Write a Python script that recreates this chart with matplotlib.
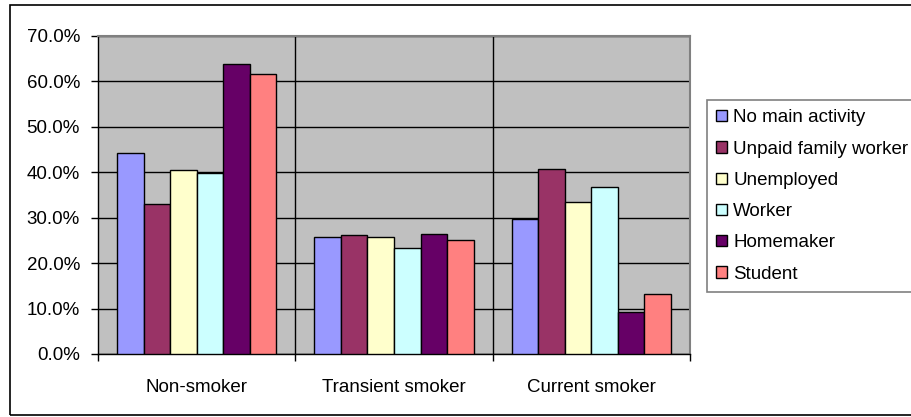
import numpy as np
import matplotlib
matplotlib.use("Agg")
import matplotlib.pyplot as plt
from matplotlib.patches import Rectangle
from matplotlib.ticker import FuncFormatter

plt.rcParams['font.family'] = ['Liberation Sans', 'DejaVu Sans']

# smoking status groups and main activity series (share of each activity group)
categories = ["Non-smoker", "Transient smoker", "Current smoker"]
series_names = ["No main activity", "Unpaid family worker", "Unemployed",
                "Worker", "Homemaker", "Student"]
no_main_activity = [44.3, 25.7, 29.8]
unpaid_family_worker = [33.1, 26.1, 40.8]
unemployed = [40.4, 25.8, 33.4]
worker = [39.8, 23.4, 36.7]
homemaker = [63.9, 26.5, 9.2]
student = [61.6, 25.1, 13.2]

series_values = [no_main_activity, unpaid_family_worker, unemployed,
                 worker, homemaker, student]
colors = ["#9999FF", "#993366", "#FFFFCC", "#CCFFFF", "#660066", "#FF8080"]

fs = 13.5

fig = plt.figure(figsize=(9.11, 4.17), dpi=100)
ax = fig.add_axes([98/911, 63/417, 592/911, 318/417])
ax.set_facecolor("#C0C0C0")

x = np.arange(len(categories))
w = 0.1343
for i, (name, vals) in enumerate(zip(series_names, series_values)):
    ax.bar(x + (i - 2.5) * w, vals, width=w, color=colors[i],
           edgecolor="black", linewidth=1.0, label=name, zorder=3)

ax.set_xlim(-0.5, 2.5)
ax.set_ylim(0, 70)
ax.set_yticks(np.arange(0, 71, 10))
ax.yaxis.set_major_formatter(FuncFormatter(lambda v, p: f"{v:.1f}%"))
ax.yaxis.grid(True, color="black", linewidth=1.0, zorder=1)
for b in [0.5, 1.5]:
    ax.axvline(b, color="black", linewidth=1.0, zorder=1)

# boundary ticks on the x axis, category names as minor labels
ax.set_xticks([-0.5, 0.5, 1.5, 2.5])
ax.set_xticklabels([])
ax.set_xticks(x, minor=True)
ax.set_xticklabels(categories, minor=True)
ax.tick_params(axis="x", which="major", direction="out", length=5, width=1)
ax.tick_params(axis="x", which="minor", length=0, pad=18, labelsize=fs)
ax.tick_params(axis="y", direction="out", length=5, width=1, pad=8, labelsize=fs)

for s in ["top", "right"]:
    ax.spines[s].set_color("#808080")
    ax.spines[s].set_linewidth(1.5)
for s in ["left", "bottom"]:
    ax.spines[s].set_color("black")
    ax.spines[s].set_linewidth(1.0)

leg = fig.legend(loc="upper left", bbox_to_anchor=(707/911, 1 - 100/417),
                 borderaxespad=0, fancybox=False, edgecolor="#606060",
                 fontsize=fs, handlelength=0.55, handleheight=0.55,
                 handletextpad=0.35, labelspacing=0.76, borderpad=0.5)
leg.get_frame().set_linewidth(1.2)

# outer chart border (runs past the right edge)
fig.add_artist(Rectangle((10/911, 2/417), 910/911, 410/417,
                         transform=fig.transFigure, fill=False,
                         edgecolor="black", linewidth=1.2))

fig.savefig("out.png", dpi=100)
